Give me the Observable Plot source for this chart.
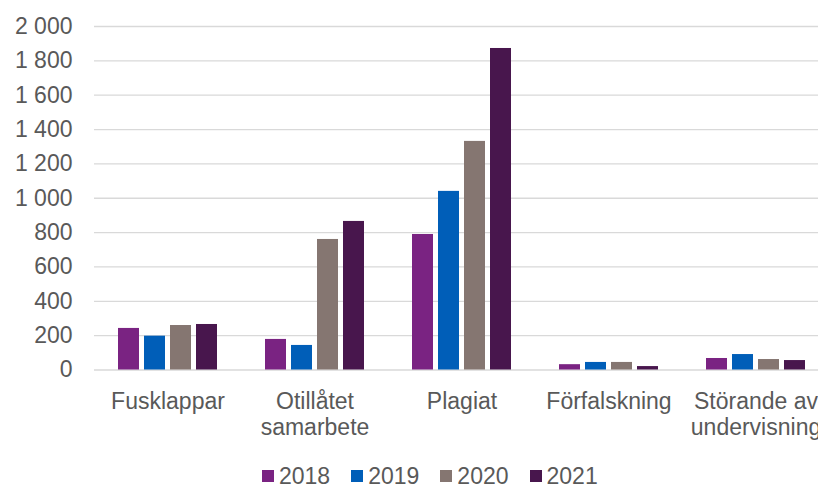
<!DOCTYPE html>
<html><head><meta charset="utf-8">
<script src="https://cdn.jsdelivr.net/npm/d3@7"></script>
<script src="https://cdn.jsdelivr.net/npm/@observablehq/plot@0.6"></script>
<style>
body{margin:0;background:#fff;}
#wrap{position:relative;width:818px;height:486px;overflow:hidden;font-family:"Liberation Sans",Arial,sans-serif;background:#fff;}
#chart{position:absolute;left:0;top:0;width:829px;}
#chart svg{max-width:none !important;}
#legend{position:absolute;left:262px;top:465.5px;display:flex;font-size:23px;line-height:20px;color:#595959;white-space:nowrap;}
.item{display:flex;align-items:center;margin-right:21px;}
.sw{width:12px;height:12px;margin-right:5px;flex:none;}
</style></head><body><div id="wrap"><div id="chart"></div><div id="legend"></div></div>
<script>
const categories = ["Fusklappar","Otillåtet samarbete","Plagiat","Förfalskning","Störande av undervisning"];
const categoryLabels = ["Fusklappar","Otillåtet\nsamarbete","Plagiat","Förfalskning","Störande av\nundervisning"];
const years = ["2018","2019","2020","2021"];
const colors = ["#7A2382","#005EB8","#857671","#48164D"];
const values2018 = [242,178,789,31,67];
const values2019 = [197,143,1040,44,90];
const values2020 = [259,760,1331,44,61];
const values2021 = [265,865,1872,20,55];
const yTicks = [0,200,400,600,800,1000,1200,1400,1600,1800,2000];

const series = [values2018, values2019, values2020, values2021];
const data = [];
categories.forEach((c, i) => years.forEach((y, j) => data.push({category: c, year: y, value: series[j][i]})));

const fmt = d => d3.format(",")(d).replace(/,/g, " ");

const chart = Plot.plot({
  width: 829, height: 455,
  marginLeft: 94, marginRight: 0, marginTop: 26, marginBottom: 85.5,
  facet: {marginTop: 0, marginBottom: 0, marginLeft: 0, marginRight: 0},
  style: {fontFamily: '"Liberation Sans", Arial, sans-serif', fontSize: "23px", color: "#595959", background: "white", overflow: "visible", maxWidth: "none"},
  fx: {domain: categories, padding: 0, label: null, axis: null},
  x: {domain: years, paddingInner: 0.19, paddingOuter: 0.92, axis: null},
  y: {domain: [0, 2000], label: null},
  color: {domain: years, range: colors},
  marks: [
    Plot.gridY(yTicks, {stroke: "#d9d9d9", strokeOpacity: 1, strokeWidth: 1.3}),
    Plot.barY(data, {fx: "category", x: "year", y: "value", fill: "year"}),
    Plot.axisY(yTicks, {tickSize: 0, tickPadding: 22, tickFormat: fmt, fontSize: 23, fill: "#595959"}),
    Plot.axisFx({anchor: "bottom", tickSize: 0, tickPadding: 20, tickFormat: d => categoryLabels[categories.indexOf(d)], lineHeight: 1.15, fontSize: 23, fill: "#595959", label: null})
  ]
});
document.getElementById("chart").appendChild(chart);

const legend = document.getElementById("legend");
years.forEach((y, i) => {
  const it = document.createElement("div");
  it.className = "item";
  const sw = document.createElement("div");
  sw.className = "sw";
  sw.style.background = colors[i];
  const t = document.createElement("span");
  t.textContent = y;
  it.appendChild(sw); it.appendChild(t);
  legend.appendChild(it);
});
</script></body></html>
